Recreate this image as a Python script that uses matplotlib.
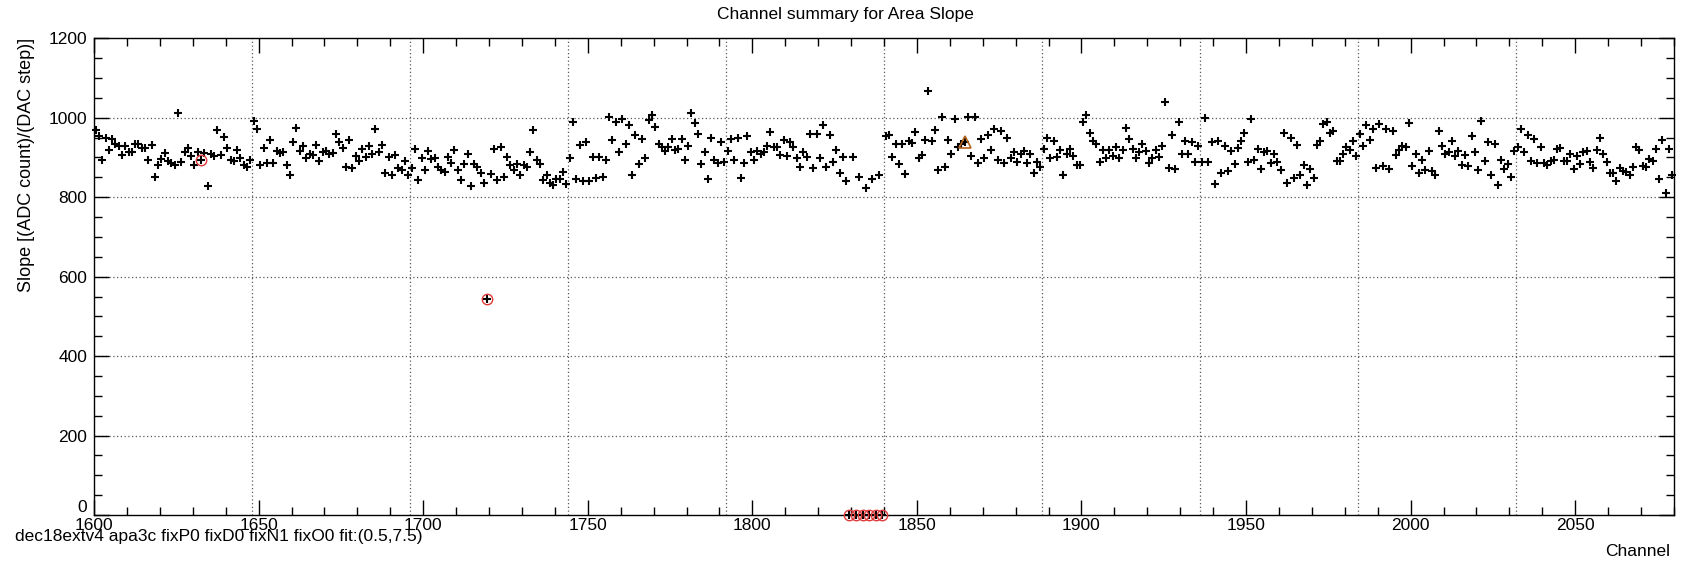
import numpy as np
import matplotlib
matplotlib.use("Agg")
import matplotlib.pyplot as plt
from matplotlib.ticker import MultipleLocator

plt.rcParams['font.family'] = ['Liberation Sans', 'DejaVu Sans']

# channel summary, one value per channel starting at 1600
first_channel = 1600
slope = [
    969, 953, 893, 950, 919, 947, 935, 929, 907, 929,
    914, 914, 933, 933, 923, 923, 894, 931, 852, 880,
    897, 911, 892, 886, 880, 1011, 888, 914, 923, 903,
    880, 914, 894, 911, 827, 909, 904, 969, 907, 951,
    923, 894, 892, 920, 898, 880, 876, 893, 992, 971,
    882, 925, 886, 945, 886, 916, 911, 914, 882, 856,
    939, 975, 916,
    929, 898, 909, 906, 932, 892, 915, 917, 909, 912,
    960, 939, 923, 876, 944, 873, 904, 892, 922, 901,
    929, 909, 972, 915, 932, 861, 901, 855, 907, 874,
    868, 892, 857, 874, 922, 843, 898, 868, 916, 895,
    898, 876, 868, 864, 902, 886, 920, 868, 843, 883,
    910, 827, 883, 876, 861, 837, 543, 858, 922, 843,
    926, 852, 901, 880, 868, 883, 855, 880, 876, 914,
    969, 893, 883, 843, 855, 835, 830, 845, 847, 864,
    834, 898, 990, 847, 931, 841, 939, 842, 901, 849,
    901, 852, 893, 1003, 944, 990, 914, 996, 935, 983,
    857, 956, 883, 947, 898, 994, 1008, 977, 935, 926,
    916, 926, 947, 918, 922, 947, 893, 929, 1011, 986,
    960, 883, 914, 845, 950, 893, 886, 939,
    889, 916, 947, 894, 950, 849, 886, 953, 914, 894,
    916, 909, 914, 929, 963, 926, 926, 906, 944, 904,
    939, 926, 898, 876, 914, 901, 960, 874, 960, 898,
    982, 876, 956, 889, 920, 861, 901, 842, 0, 901,
    0, 852, 0, 824, 0, 847, 0, 856, 0, 953,
    956, 901, 935, 883, 935, 859, 941, 937, 963, 898,
    906, 945, 1067, 941,
    969, 868, 1003, 876, 944, 910, 996, 926, 935, 940,
    1003, 904, 1003, 886, 947, 898, 956, 920, 972, 893,
    966, 886, 950, 898, 914, 889, 910, 916, 886, 910,
    861, 889, 876, 922, 950, 898, 941, 901, 920, 857,
    910, 922, 904, 880, 880, 990, 1008, 962, 941, 935,
    889, 920, 898, 920, 904, 926, 898, 920, 975, 947,
    922, 898, 914,
    933, 916, 886, 898, 920, 901, 929, 1039, 873, 956,
    870, 990, 910, 941, 910, 939, 889, 929, 889, 999,
    889, 939, 832, 941, 861, 929, 865, 916, 883, 923,
    941, 962, 889, 996, 894, 922, 870, 914, 916, 886,
    910, 889, 868, 962, 835, 950, 848, 931, 855, 882,
    830, 870, 849, 931, 941, 985, 990, 962, 966, 892,
    892, 910, 926, 920,
    941, 904, 960, 929, 982, 943, 971, 873, 985, 878,
    971, 870, 966, 906, 920, 929, 926, 987, 879, 908,
    861, 894, 868, 916, 866, 857, 966, 928, 909, 914,
    941, 904, 916, 882, 907, 878, 953, 914, 868, 993,
    892, 939, 855, 935, 830, 894, 870, 883, 852, 916,
    926, 971, 914, 956, 892, 947, 885, 926, 885, 881,
    892, 894, 922, 923,
    892, 892, 910, 870, 904, 883, 914, 916, 888, 873,
    920, 950, 910, 889, 861, 861, 842, 873, 866, 863,
    855, 876, 926, 920, 879, 876, 896, 892, 922, 846,
    944, 811, 922, 856,
]
circled = [1632, 1719, 1829, 1831, 1833, 1835, 1837, 1839]
triangled = [1864]
grid_channels = [1648, 1696, 1744, 1792, 1840, 1888, 1936, 1984, 2032]

values = np.array(slope, dtype=float)
channels = np.arange(first_channel, first_channel + len(values)) + 0.5

fig = plt.figure(figsize=(16.9, 5.67), dpi=100)
ax = fig.add_axes([94 / 1690, 1 - 515 / 567, 1580 / 1690, (515 - 38.3) / 567])

ax.plot(channels, values, linestyle='none', marker='+', ms=5.5, mew=1.5,
        color='black', clip_on=False, zorder=3)

ci = np.array(circled) - first_channel
ax.plot(channels[ci], values[ci], linestyle='none', marker='o', ms=7.5,
        mfc='none', mec='#e03a3a', mew=1.0, clip_on=False, zorder=4)
ti = np.array(triangled) - first_channel
ax.plot(channels[ti], values[ti], linestyle='none', marker='^', ms=8.5,
        mfc='none', mec='#b5651d', mew=1.2, clip_on=False, zorder=4)

ax.set_xlim(1600, 2080)
ax.set_ylim(0, 1200)

grid_style = dict(color='0.35', linestyle=(0, (1, 2)), linewidth=0.9, zorder=1)
for g in grid_channels:
    ax.axvline(g, **grid_style)
for h in [200, 400, 600, 800, 1000]:
    ax.axhline(h, **grid_style)

ax.xaxis.set_major_locator(MultipleLocator(50))
ax.xaxis.set_minor_locator(MultipleLocator(10))
ax.yaxis.set_major_locator(MultipleLocator(200))
ax.yaxis.set_minor_locator(MultipleLocator(50))
ax.tick_params(which='both', direction='in', top=True, right=True,
               width=1.0, labelsize=12.5)
ax.tick_params(which='major', length=11)
ax.tick_params(which='minor', length=5.5)
ax.tick_params(axis='x', pad=2)
ax.tick_params(axis='y', pad=5)
for s in ax.spines.values():
    s.set_linewidth(1.0)

fig.canvas.draw()
for lab in ax.get_yticklabels():
    if lab.get_text() == '0':
        lab.set_va('bottom')

ax.set_ylabel('Slope [(ADC count)/(DAC step)]', loc='top', fontsize=13,
              labelpad=10)
fig.text(0.5, 1 - 15 / 567, 'Channel summary for Area Slope',
         ha='center', va='center', fontsize=12.5)
fig.text(1670 / 1690, 1 - 552 / 567, 'Channel', ha='right', va='center',
         fontsize=12.5)
fig.text(15 / 1690, 1 - 537 / 567,
         'dec18extv4 apa3c fixP0 fixD0 fixN1 fixO0 fit:(0.5,7.5)',
         ha='left', va='center', fontsize=12.5)

fig.savefig('out.png', dpi=100)
